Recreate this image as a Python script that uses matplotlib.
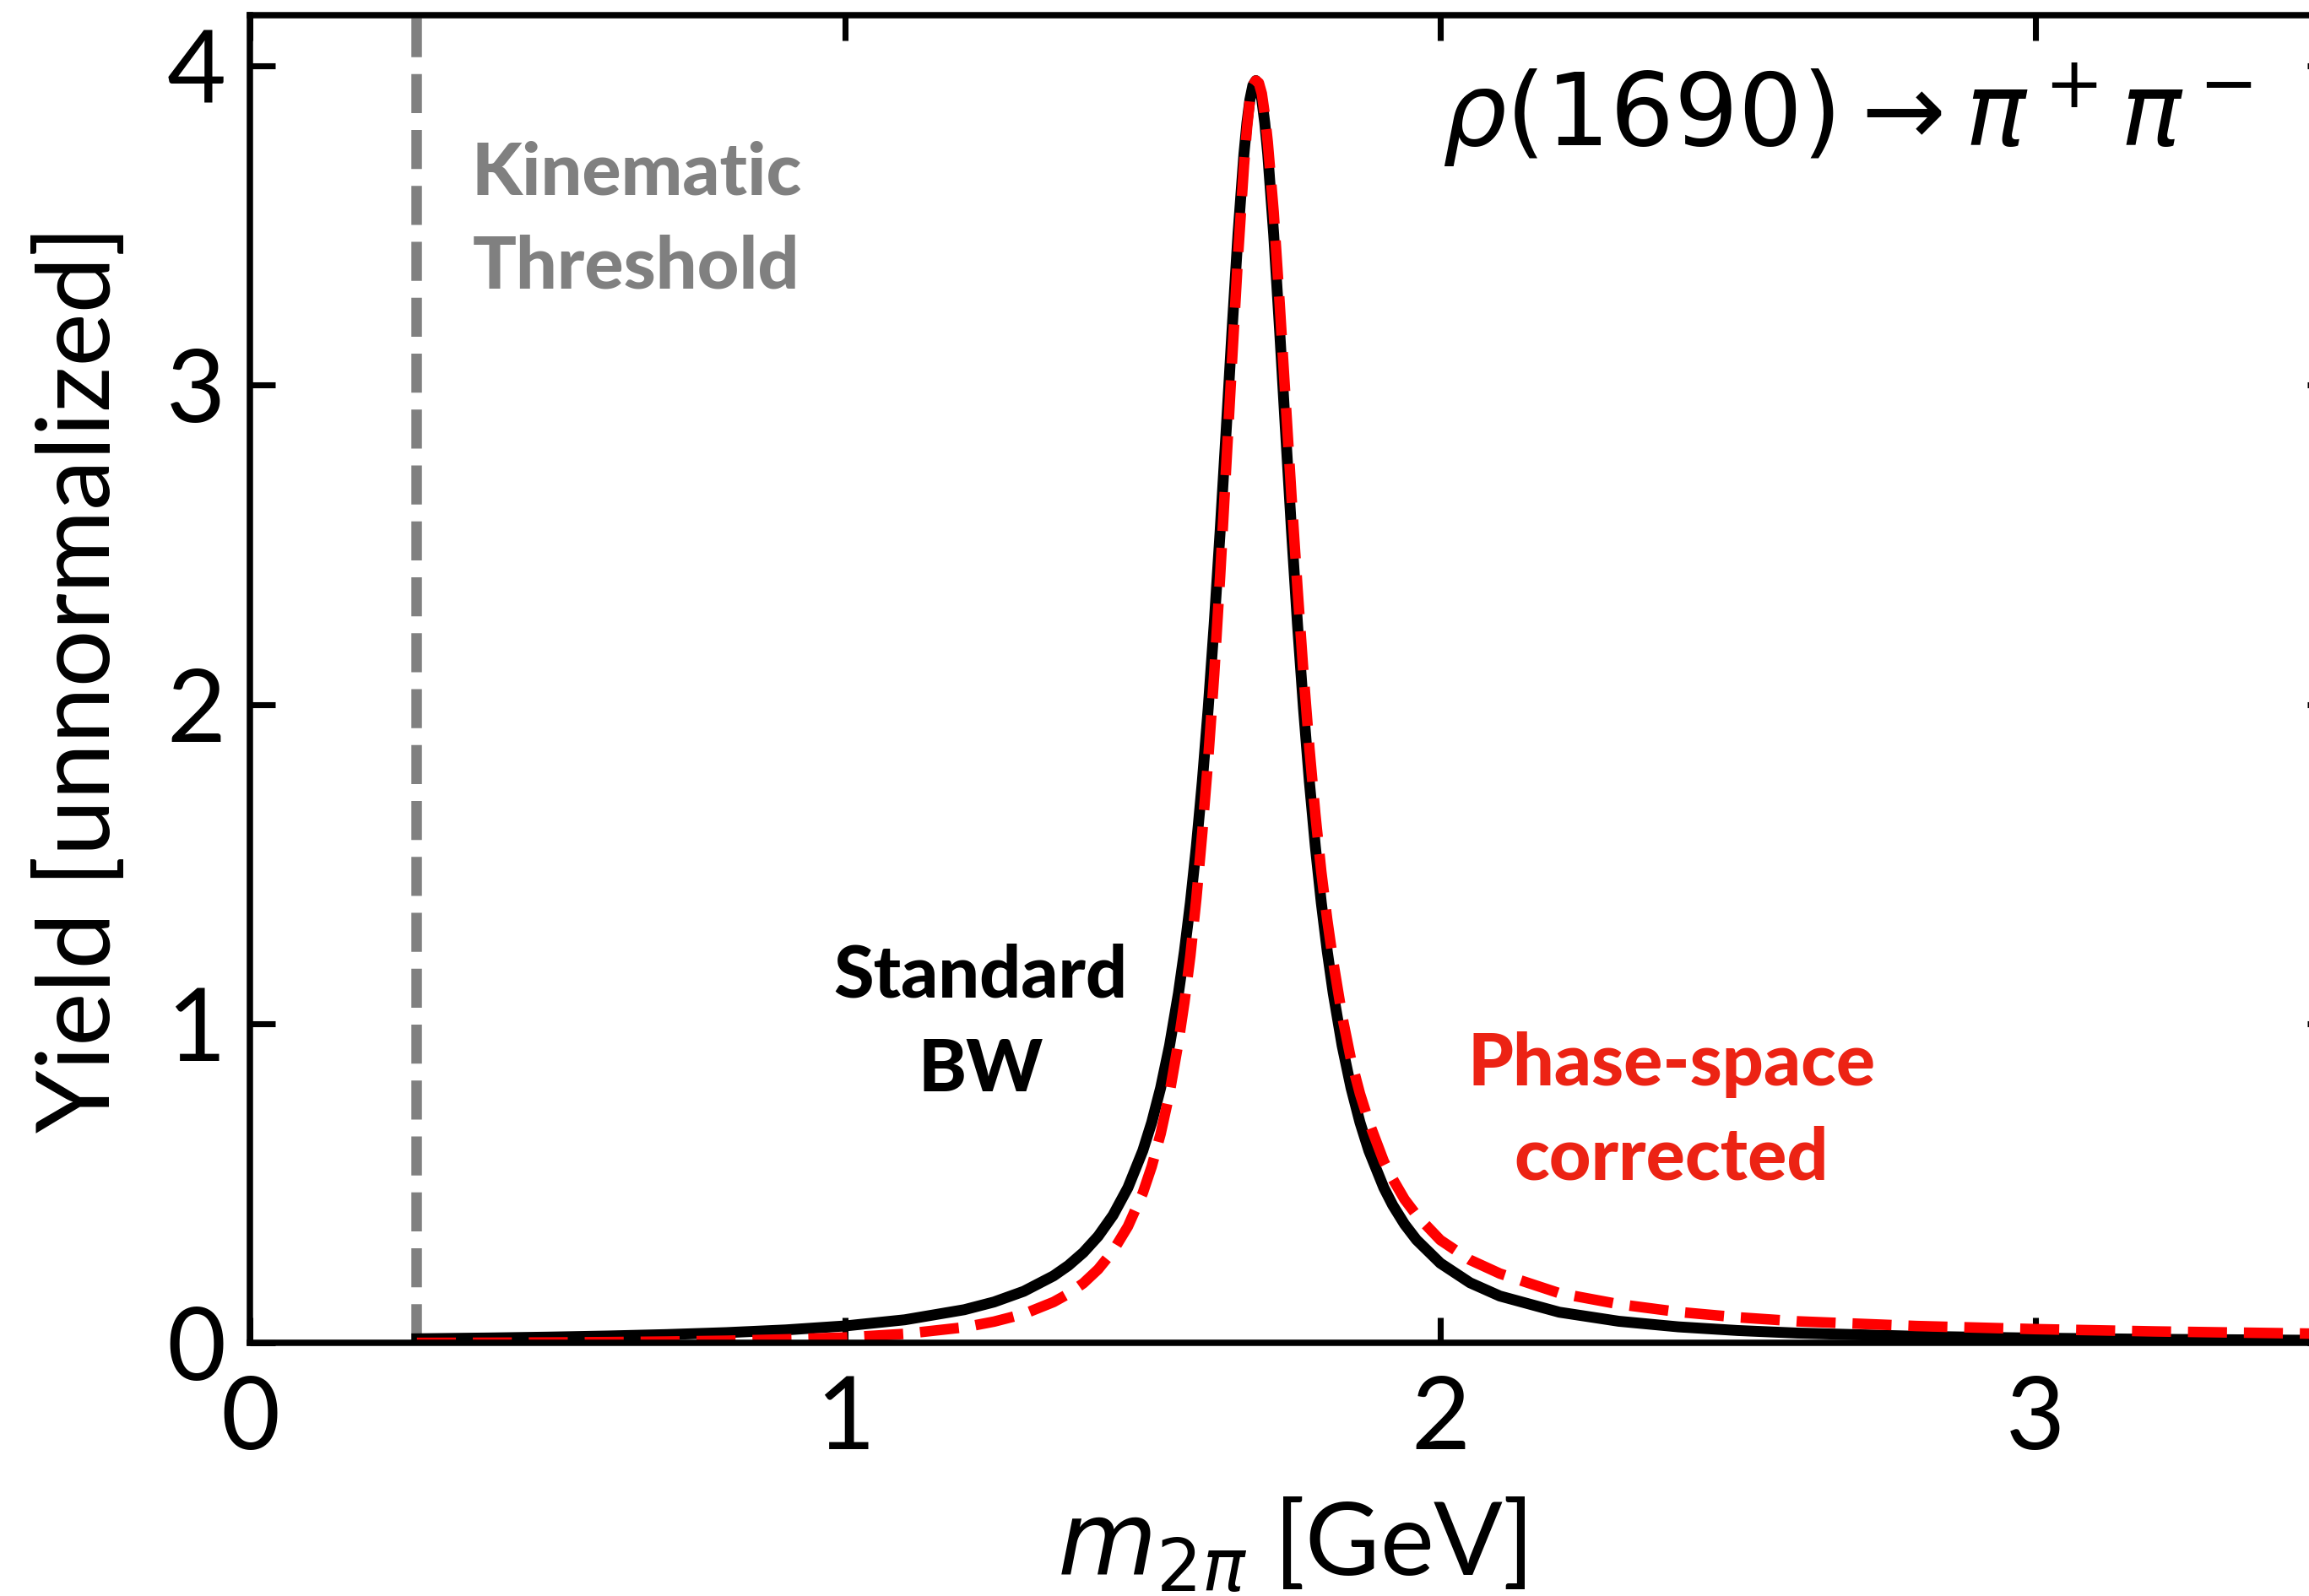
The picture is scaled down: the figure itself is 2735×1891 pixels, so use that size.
import numpy as np
import matplotlib
matplotlib.use('Agg')
import matplotlib.pyplot as plt

# invariant mass grid [GeV] and the two line shapes
m2pi = [0.28, 0.4, 0.5, 0.6, 0.7, 0.8, 0.9, 1.0, 1.1, 1.2, 1.25, 1.3, 1.35, 1.375,
        1.4, 1.425, 1.45, 1.475, 1.5, 1.515, 1.53, 1.545, 1.56, 1.57, 1.58, 1.59,
        1.6, 1.61, 1.62, 1.63, 1.64, 1.65, 1.66, 1.67, 1.675, 1.68, 1.685, 1.69,
        1.695, 1.7, 1.705, 1.71, 1.72, 1.73, 1.74, 1.75, 1.76, 1.77, 1.78, 1.79,
        1.8, 1.81, 1.82, 1.835, 1.85, 1.865, 1.88, 1.905, 1.92, 1.94, 1.96, 2.0,
        2.05, 2.1, 2.2, 2.3, 2.4, 2.5, 2.6, 2.8, 3.0, 3.2, 3.5]

bw_standard = [0.0128, 0.0153, 0.0180, 0.0215, 0.0260, 0.0321, 0.0406, 0.0531,
               0.0723, 0.1039, 0.1281, 0.1616, 0.2099, 0.2424, 0.2829, 0.3341,
               0.3999, 0.4862, 0.6018, 0.6906, 0.7988, 0.9316, 1.0960, 1.2272,
               1.3791, 1.5549, 1.7575, 1.9894, 2.2517, 2.5421, 2.8535, 3.1713,
               3.4721, 3.7244, 3.8216, 3.8942, 3.9391, 3.9540, 3.9391, 3.8942,
               3.8216, 3.7244, 3.4721, 3.1713, 2.8535, 2.5421, 2.2517, 1.9894,
               1.7575, 1.5549, 1.3791, 1.2272, 1.0960, 0.9316, 0.7988, 0.6906,
               0.6018, 0.4862, 0.4315, 0.3715, 0.3228, 0.2498, 0.1883, 0.1468,
               0.0961, 0.0677, 0.0502, 0.0387, 0.0307, 0.0207, 0.0149, 0.0112,
               0.0078]

bw_phase_space = [0.0, 0.0005, 0.0013, 0.0024, 0.0042, 0.0067, 0.0110, 0.0170,
                  0.0282, 0.0488, 0.0666, 0.0905, 0.1280, 0.1539, 0.1867, 0.2305,
                  0.2879, 0.3647, 0.4694, 0.5525, 0.6550, 0.7825, 0.9425, 1.0677,
                  1.2136, 1.3916, 1.5993, 1.8302, 2.0941, 2.4023, 2.7393, 3.0762,
                  3.4026, 3.6872, 3.8025, 3.8942, 3.9391, 3.9540, 3.9470, 3.9137,
                  3.8484, 3.7617, 3.5415, 3.2569, 2.9533, 2.6489, 2.3643, 2.0988,
                  1.8629, 1.6560, 1.4757, 1.3254, 1.1946, 1.0248, 0.8866, 0.7804,
                  0.6920, 0.5689, 0.5135, 0.4495, 0.4003, 0.3222, 0.2599, 0.2172,
                  0.1557, 0.1212, 0.0969, 0.0801, 0.0675, 0.0528, 0.0431, 0.0359,
                  0.0281]

threshold = 0.2791  # 2 m_pi

plt.rcParams['font.family'] = ['Lato', 'DejaVu Sans']
plt.rcParams['mathtext.fontset'] = 'dejavusans'

fig = plt.figure(figsize=(2735 / 300, 1891 / 300), dpi=300)
ax = fig.add_axes([0.1084, 0.1586, 0.9019, 0.8321])

ax.axvline(threshold, color='gray', ls='--', lw=3)
ax.plot(m2pi, bw_standard, color='black', lw=3.1)
ax.plot(m2pi, bw_phase_space, color='red', ls='--', lw=3)

ax.set_xlim(0, 3.5)
ax.set_ylim(0, 4.16)
ax.set_xticks([0, 1, 2, 3])
ax.set_yticks([0, 1, 2, 3, 4])

for s in ax.spines.values():
    s.set_linewidth(1.8)
ax.tick_params(direction='in', length=7.2, width=1.7, top=True, right=True,
               labelsize=29)
ax.tick_params(axis='x', pad=9)
ax.tick_params(axis='y', pad=7)

ax.set_xlabel(r'$m_{2\pi}$ [GeV]', fontsize=29, labelpad=8)
ax.set_ylabel('Yield [unnormalized]', fontsize=28.7, labelpad=11)

ax.text(0.649, 3.516, 'Kinematic\nThreshold', color='gray', fontsize=20.7,
        fontweight='black', ha='center', va='center', linespacing=1.5)
ax.text(1.227, 1.0, 'Standard\nBW', color='black', fontsize=20.7,
        fontweight='black', ha='center', va='center', linespacing=1.5)
ax.text(2.389, 0.724, 'Phase-space\ncorrected', color='#ec2314', fontsize=20.7,
        fontweight='black', ha='center', va='center', linespacing=1.5)
ax.text(3.365, 3.75, r'$\rho(1690)\rightarrow\pi^+\pi^-$', fontsize=28.7,
        ha='right', va='baseline')

fig.savefig('out.png', dpi=300)
